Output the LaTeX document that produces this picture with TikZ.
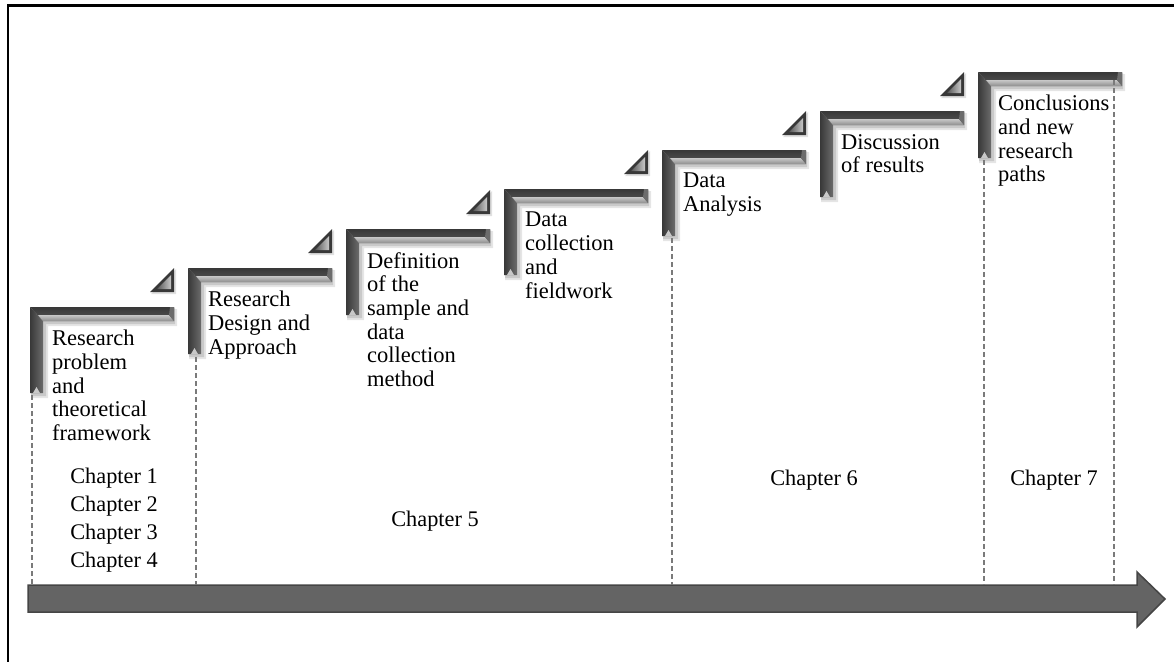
\documentclass[tikz,border=0pt]{standalone}
\usepackage{fontspec}
\setmainfont{Liberation Serif}
\begin{document}
\definecolor{barDark}{HTML}{383838}
\definecolor{barMid}{HTML}{575757}
\definecolor{barSoft}{HTML}{6C6C6C}
\definecolor{barLight}{HTML}{C8C8C8}
\definecolor{barLightLow}{HTML}{8E8E8E}
\definecolor{arrowFill}{HTML}{646464}
\definecolor{arrowEdge}{HTML}{454545}
\definecolor{guideGray}{HTML}{7A7A7A}
\tikzset{
  % L-shaped bevelled bracket, origin at its top-left corner
  pics/stepbracket/.style={code={
    % soft drop shadow
    \fill[black, opacity=.10] (1,2) -- (147,2) -- (147,19) -- (18,19) -- (18,91) -- (1,91) -- cycle;
    \fill[black, opacity=.12] (1,1) -- (145,1) -- (145,17) -- (16,17) -- (16,89) -- (1,89) -- cycle;
    % horizontal bar
    \shade[top color=barDark, bottom color=barMid] (0,0) -- (144,0) -- (144,14) -- (13,14) -- cycle;
    % vertical bar
    \shade[left color=barDark, right color=barSoft] (0,0) -- (13,14) -- (13,86) -- (0,86) -- cycle;
    % light bevel under the horizontal bar
    \shade[top color=barLight, bottom color=barLightLow] (8,8) -- (139,8) -- (144,14) -- (13,14) -- cycle;
    % bevelled end faces
    \fill[barSoft] (139,8) -- (140,0) -- (144,0) -- (144,14) -- cycle;
    \fill[barLight] (3,86) -- (6.5,80) -- (10,86) -- cycle;
  }},
  % small bevelled triangle above a bracket end
  pics/steptip/.style={code={
    \fill[black, opacity=.12] (2,2) -- (2,-23) -- (-23,2) -- cycle;
    \fill[barDark] (0,0) -- (0,-24) -- (-24,0) -- cycle;
    \shade[left color=barMid, right color=barLight] (-3,-3) -- (-3,-17) -- (-17,-3) -- cycle;
  }},
  steptext/.style={font=\fontsize{22.5}{23.7}\selectfont, align=left, inner sep=0pt, anchor=north west},
  chaptext/.style={font=\fontsize{22.3}{28}\selectfont, align=center, inner sep=0pt},
  guide/.style={draw=guideGray, line width=1.1pt, dash pattern=on 5pt off 3pt},
}
\begin{tikzpicture}[x=1pt, y=-1pt]
  \useasboundingbox (0,0) rectangle (1174,662);
  % page frame
  \draw[line width=3pt] (7,5) -- (1174,5);
  \draw[line width=2pt] (8,5) -- (8,662);

  % timeline arrow
  \coordinate (axis) at (0,585);
  \fill[arrowFill, draw=arrowEdge, line width=1.5pt]
    (28,585) -- (1137,585) -- (1137,572) -- (1165,599) -- (1137,627) -- (1137,612) -- (28,612) -- cycle;

  % stair of brackets
  \pic at (30,307)  {stepbracket};
  \pic at (188,268) {stepbracket};
  \pic at (346,229) {stepbracket};
  \pic at (504,189) {stepbracket};
  \pic at (662,150) {stepbracket};
  \pic at (820,111) {stepbracket};
  \pic at (978,72)  {stepbracket};

  \pic at (174,292) {steptip};
  \pic at (332,253) {steptip};
  \pic at (490,214) {steptip};
  \pic at (648,174) {steptip};
  \pic at (806,135) {steptip};
  \pic at (964,96)  {steptip};

  % step labels
  \node[steptext] (s1) at (52,330)   {Research\\problem\\and\\theoretical\\framework};
  \node[steptext] (s2) at (208,291)  {Research\\Design and\\Approach};
  \node[steptext] (s3) at (367,252)  {Definition\\of the\\sample and\\data\\collection\\method};
  \node[steptext] (s4) at (525,212)  {Data\\collection\\and\\fieldwork};
  \node[steptext] (s5) at (683,173)  {Data\\Analysis};
  \node[steptext] (s6) at (841,134)  {Discussion\\of results};
  \node[steptext] (s7) at (998,95)   {Conclusions\\and new\\research\\paths};

  % chapter labels
  \node[chaptext] (c14) at (114,520) {Chapter 1\\Chapter 2\\Chapter 3\\Chapter 4};
  \node[chaptext] (c5)  at (435,521) {Chapter 5};
  \node[chaptext] (c6)  at (814,480) {Chapter 6};
  \node[chaptext] (c7)  at (1054,480) {Chapter 7};

  % dashed guides down to the timeline
  \coordinate (g1) at (32,395);
  \coordinate (g2) at (196,357);
  \coordinate (g5) at (672,238);
  \coordinate (g7) at (984,160);
  \coordinate (g7r) at (1114,80);
  \foreach \g in {g1,g2,g5,g7,g7r}
    \draw[guide] (\g) -- (\g |- axis);
\end{tikzpicture}
\end{document}
